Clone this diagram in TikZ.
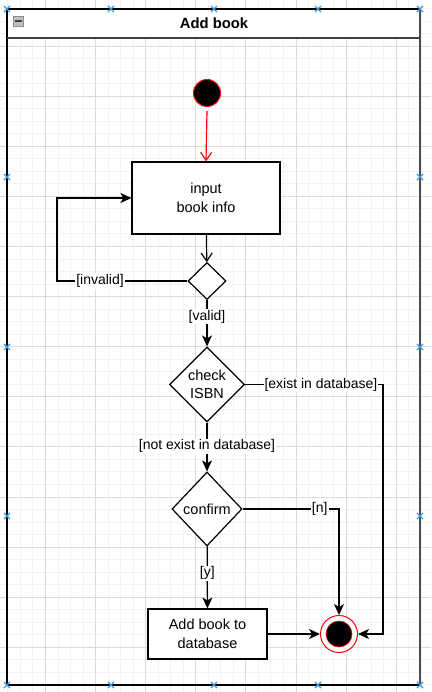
\documentclass[tikz,border=0pt]{standalone}
\usepackage{fontspec}
\setmainfont{Liberation Sans}
\usetikzlibrary{shapes.geometric,shapes.misc,arrows.meta}

\tikzset{
  act/.style={draw, line width=1.2pt, fill=white, align=center, inner sep=0pt, font=\fontsize{14.5}{18.5}\selectfont},
  choice/.style={draw, diamond, line width=1.2pt, fill=white, align=center, inner sep=0pt, font=\fontsize{14.5}{18.5}\selectfont},
  flow/.style={line width=1.2pt, -{Stealth[length=11pt, width=10pt, inset=3pt]}},
  openflow/.style={line width=1.2pt, -{Straight Barb[length=8pt, width=11pt]}},
  guard/.style={fill=white, inner sep=1pt, font=\fontsize{14}{16}\selectfont},
  gridfine/.style={line width=0.8pt, color=black!5},
  gridbold/.style={line width=0.8pt, color=black!14},
  handle/.style={cross out, draw=cyan!70!blue!80, line width=1.1pt, minimum size=5pt, inner sep=0pt}
}

\begin{document}
\begin{tikzpicture}[x=1pt, y=-1pt]
  %%%%% CANVAS %%%%%
  \useasboundingbox (0,0) rectangle (431,692);
  \fill[white] (0,0) rectangle (431,692);

  % grid
  \foreach \i in {0,...,35} {\draw[gridfine] ({-4.7+12.525*\i},0) -- ++(0,692);}
  \foreach \i in {0,...,55} {\draw[gridfine] (0,{-4.1+12.525*\i}) -- ++(431,0);}
  \foreach \i in {0,...,8} {\draw[gridbold] ({-4.7+50.1*\i},0) -- ++(0,692);}
  \foreach \i in {0,...,14} {\draw[gridbold] (0,{-4.1+50.1*\i}) -- ++(431,0);}

  %%%%% FRAME %%%%%
  \fill[white] (7,9) rectangle (420,38);
  \draw[line width=1.3pt] (7,9) rectangle (420,685);
  \draw[line width=1.3pt, black!70] (420,9) -- (420,685);
  \draw[line width=1.3pt, black!75] (7,38) -- (420,38);
  \node[font=\bfseries\fontsize{14.8}{17}\selectfont] (title) at (214,23) {Add book};
  \node[draw=black!45, fill=black!25, minimum size=10pt, inner sep=0pt] (fold) at (18.5,21) {};
  \draw[line width=1.3pt, black!75] ([xshift=2pt]fold.west) -- ([xshift=-2pt]fold.east);

  %%%%% NODES %%%%%
  \node[circle, draw=red, fill=black, line width=1pt, minimum size=27pt, inner sep=0pt] (start) at (207,93) {};
  \node[act, minimum width=148pt, minimum height=72pt] (input) at (206,198) {input\\book info};
  \node[choice, minimum width=38pt, minimum height=37pt] (valid) at (207,281) {};
  \node[choice, minimum width=75pt, minimum height=75pt] (isbn) at (207,384.5) {check\\ISBN};
  \node[choice, minimum width=70pt, minimum height=74pt] (confirm) at (207,509) {confirm};
  \node[act, minimum width=119pt, minimum height=50pt] (save) at (207.5,634) {Add book to\\database};
  \node[circle, draw=red, fill=white, line width=1pt, minimum size=37pt, inner sep=0pt] (stop) at (339,634) {};
  \filldraw[fill=black, draw=red, line width=0.6pt] (stop.center) circle (13);

  \coordinate (retry) at (57,281);
  \coordinate (exist) at (383,384.5);

  %%%%% EDGES %%%%%
  \draw[openflow, red] ([yshift=-4pt]start.south) -- (input.north);
  \draw[openflow] (input) -- (valid);
  \draw[flow] (valid.west) -- node[guard, pos=0.67] {[invalid]} (retry) |- (input.west);
  \draw[flow] (valid) -- node[guard, pos=0.36] {[valid]} (isbn);
  \draw[flow] (isbn.east) -- node[guard, pos=0.55] {[exist in database]} (exist) |- (stop.east);
  \draw[flow] (isbn) -- node[guard, pos=0.48] {[not exist in database]} (confirm);
  \draw[flow] (confirm.east) -| node[guard, pos=0.4] {[n]} (stop.north);
  \draw[flow] (confirm) -- node[guard, pos=0.43] {[y]} (save);
  \draw[flow] (save) -- (stop);

  %%%%% HANDLES %%%%%
  \foreach \p [count=\k] in {(7,9),(111,9),(214,9),(318,9),(420,9),
      (7,177),(7,347),(7,516),(420,177),(420,347),(420,516),
      (7,685),(111,685),(214,685),(318,685),(420,685)}
    \node[handle] (h\k) at \p {};
\end{tikzpicture}
\end{document}
